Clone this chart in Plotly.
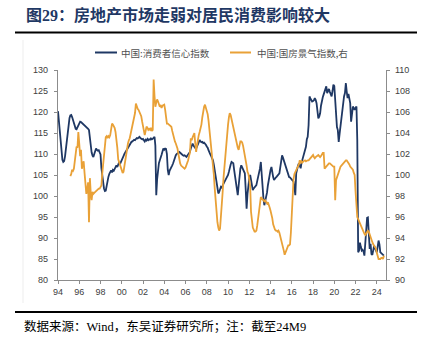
import pandas as pd
import plotly.graph_objects as go

# 中国:消费者信心指数 (monthly, from 1994-01)
cci = [
    120.2, 117.5, 114.5, 111.8, 109.8, 108.6, 108.1, 108.3, 109.5, 111.5, 113.8, 116.0,  # 1994
    117.6, 118.6, 119.2, 119.3, 118.8, 118.0, 117.2, 116.5, 116.0, 115.9, 116.3, 116.9,  # 1995
    117.4, 117.7, 117.6, 117.4, 117.3, 117.2, 117.0, 116.8, 116.5, 116.3, 116.0, 115.7,  # 1996
    113.5, 111.7, 110.4, 109.6, 109.3, 110.0, 110.8, 111.3, 111.0, 110.8, 110.9, 110.3,  # 1997
    109.9, 106.6, 104.5, 103.0, 101.8, 101.2, 101.3, 102.4, 103.8, 104.6, 105.3, 105.8,  # 1998
    106.1, 105.6, 106.2, 106.0, 106.5, 106.9, 107.3, 106.9, 107.4, 108.0, 107.6, 108.2,  # 1999
    108.6, 109.3, 109.5, 110.0, 110.4, 110.7, 110.9, 111.5, 112.0, 112.3, 112.6, 112.9,  # 2000
    113.0, 113.2, 113.4, 113.3, 113.6, 113.8, 113.7, 113.9, 114.1, 113.8, 113.6, 113.5,  # 2001
    113.6, 113.3, 113.0, 113.4, 113.2, 113.6, 113.3, 113.5, 113.4, 113.7, 113.5, 113.6,  # 2002
    113.8, 114.1, 112.0, 100.2, 104.0, 106.9, 107.8, 108.5, 109.0, 109.8, 110.6, 111.3,  # 2003
    111.0, 111.3, 111.2, 110.0, 106.2, 105.0, 106.0, 106.6, 107.0, 107.3, 107.8, 108.6,  # 2004
    109.2, 109.7, 110.0, 110.2, 110.4, 110.5, 110.3, 110.0, 109.9, 109.7, 109.6, 109.7,  # 2005
    109.5, 109.3, 109.6, 110.0, 110.3, 110.5, 111.3, 112.0, 112.5, 112.0, 111.5, 111.4,  # 2006
    111.3, 111.9, 112.5, 113.0, 113.3, 113.0, 112.8, 112.9, 112.6, 112.7, 112.5, 112.2,  # 2007
    111.8, 111.5, 110.9, 110.2, 109.9, 109.5, 109.0, 108.5, 107.4, 106.1, 104.6, 103.0,  # 2008
    101.8, 100.6, 100.9, 101.5, 102.2, 102.0, 102.6, 103.0, 103.4, 103.8, 104.2, 104.6,  # 2009
    105.0, 105.8, 106.9, 107.5, 108.1, 108.0, 107.8, 106.1, 104.5, 103.0, 101.5, 100.2,  # 2010
    102.5, 105.0, 106.5, 107.3, 106.8, 106.0, 105.7, 105.4, 101.5, 97.0, 100.5, 103.0,   # 2011
    104.2, 105.0, 103.5, 102.3, 101.4, 101.8, 102.0, 102.3, 102.6, 103.6, 104.5, 105.4,  # 2012
    106.5, 108.1, 104.5, 101.4, 99.5, 97.8, 98.6, 99.8, 100.8, 102.5, 104.0, 105.5,      # 2013
    106.2, 106.9, 105.5, 104.5, 103.8, 104.2, 104.4, 104.6, 104.9, 105.2, 105.4, 106.8,  # 2014
    108.1, 109.7, 109.2, 108.5, 107.5, 106.8, 106.3, 105.8, 104.6, 104.5, 104.4, 104.2,  # 2015
    104.0, 103.8, 103.4, 102.0, 100.2, 105.4, 106.8, 107.2, 107.8, 107.0, 106.6, 107.9,  # 2016
    108.6, 109.3, 110.2, 111.0, 111.7, 113.5, 114.1, 116.9, 123.7, 123.2, 122.8, 122.5,  # 2017
    122.6, 122.8, 123.3, 122.9, 122.1, 120.5, 118.5, 118.9, 119.7, 121.5, 122.9, 123.5,  # 2018
    124.2, 124.9, 125.5, 126.1, 124.5, 125.0, 125.5, 124.8, 124.2, 123.7, 125.0, 126.5,  # 2019
    126.2, 122.9, 117.7, 116.4, 115.7, 112.9, 114.8, 116.5, 118.5, 120.9, 122.5, 123.7,  # 2020
    124.5, 126.9, 125.0, 123.3, 124.3, 123.5, 122.1, 117.7, 119.5, 121.3, 120.9, 120.5,  # 2021
    121.0, 121.3, 113.2, 86.6, 87.0, 88.9, 87.9, 87.0, 87.2, 86.8, 85.8, 88.3,           # 2022
    91.2, 94.8, 94.9, 89.8, 87.4, 88.6, 86.2, 86.0, 87.2, 88.2, 87.5, 86.8,              # 2023
    86.6, 88.0, 89.4, 88.5, 86.6, 86.4, 86.2, 85.9, 85.8,                                # 2024
]

# 中国:国房景气指数 (monthly, from 1995-03), right axis
housing = [
    99.9, 100.1, 100.5, 100.4, 100.6, 101.4, 102.2, 102.7, 102.6, 104.1,                  # 1995
    103.0, 101.8, 102.4, 100.6, 101.0, 101.3, 100.2, 99.2, 98.2, 98.6, 99.3, 95.5,       # 1996
    99.7, 98.2, 97.6, 98.4, 98.2, 98.3, 98.4, 98.5, 98.6, 98.6, 98.7, 98.7,              # 1997
    98.9, 99.0, 100.1, 101.0, 101.7, 102.8, 103.6, 103.7, 103.5, 103.7, 103.6, 103.8,    # 1998
    104.3, 104.9, 104.8, 104.6, 104.5, 104.1, 103.5, 102.6, 101.5, 101.2, 101.0, 100.8,  # 1999
    100.5, 100.2, 100.3, 100.9, 101.6, 102.2, 102.7, 103.0, 103.3, 103.5, 103.9, 104.3,  # 2000
    104.6, 104.9, 105.2, 105.9, 106.8, 106.5, 106.3, 106.2, 106.0, 105.8, 105.6, 105.1,  # 2001
    104.6, 104.2, 103.8, 104.2, 104.6, 104.5, 104.3, 104.4, 104.3, 104.5, 104.2, 104.3,  # 2002
    109.1, 107.5, 106.5, 106.9, 107.2, 107.0, 106.8, 106.5, 106.6, 106.4, 106.6, 106.7,  # 2003
    106.7, 106.2, 105.6, 104.9, 104.9, 104.8, 104.7, 104.7, 104.6, 104.2, 103.8, 103.5,  # 2004
    103.2, 103.0, 102.8, 102.5, 102.0, 101.4, 101.1, 100.9, 100.8, 100.7, 100.6, 100.6,  # 2005
    100.7, 100.9, 101.1, 101.4, 101.8, 102.1, 103.5, 103.3, 103.6, 103.8, 104.0, 103.0,  # 2006
    102.2, 102.9, 103.5, 103.8, 104.1, 104.4, 104.8, 105.5, 106.2, 106.5, 106.7, 106.4,  # 2007
    106.2, 105.8, 105.2, 104.4, 103.6, 102.8, 102.0, 101.2, 100.0, 98.7, 97.4, 96.3,     # 2008
    95.5, 95.0, 94.7, 94.9, 95.8, 97.0, 98.4, 99.8, 101.0, 102.2, 103.2, 104.0,          # 2009
    104.8, 105.5, 105.9, 105.7, 105.3, 104.8, 104.4, 104.0, 103.6, 103.2, 102.9, 102.6,  # 2010
    102.4, 102.8, 103.2, 103.2, 103.1, 102.8, 102.4, 101.9, 101.4, 100.9, 100.3, 100.1,  # 2011
    99.6, 98.9, 96.5, 95.6, 95.0, 94.8, 94.6, 94.6, 94.7, 95.2, 95.9, 96.6,              # 2012
    97.2, 97.9, 97.8, 97.7, 97.6, 97.5, 97.6, 97.4, 97.3, 97.4, 97.2, 96.9,              # 2013
    96.6, 96.3, 95.9, 95.3, 94.9, 94.8, 94.7, 94.7, 94.6, 94.7, 94.5, 94.2,              # 2014
    93.8, 93.4, 93.1, 92.8, 92.4, 92.6, 92.9, 93.1, 93.3, 93.3, 93.4, 94.5,              # 2015
    96.5, 98.9, 99.6, 100.1, 100.3, 100.5, 100.6, 100.8, 101.0, 101.4, 101.1, 101.3,     # 2016
    101.2, 101.3, 101.4, 101.4, 101.3, 101.4, 101.4, 101.4, 101.5, 101.6, 101.7, 101.7,  # 2017
    101.9, 101.7, 101.6, 101.7, 101.8, 101.9, 101.9, 101.8, 101.7, 101.8, 102.0, 102.1,  # 2018
    102.1, 100.6, 100.7, 100.8, 101.0, 101.1, 101.1, 101.1, 101.0, 101.0, 100.9, 100.8,  # 2019
    100.8, 97.6, 99.5, 99.8, 100.1, 100.4, 100.6, 100.8, 100.9, 101.0, 101.1, 101.3,     # 2020
    101.4, 101.4, 101.4, 101.3, 101.2, 101.0, 100.8, 100.7, 100.6, 100.5, 100.2, 100.0,  # 2021
    98.4, 96.6, 96.0, 95.8, 95.6, 95.4, 95.1, 94.9, 94.7, 94.5, 94.4, 94.3,              # 2022
    94.5, 94.7, 94.7, 94.6, 94.3, 94.0, 93.8, 93.6, 93.4, 93.3, 93.2, 93.0,              # 2023
    92.6, 92.1, 92.0, 92.0, 92.0, 92.1, 92.1, 92.0, 92.3,                                # 2024
]

cci_name = "中国:消费者信心指数"
housing_name = "中国:国房景气指数,右"
tick_years = list(range(1994, 2025, 2))
tick_text = [f"{y % 100:02d}" for y in tick_years]

title_text = "图29：房地产市场走弱对居民消费影响较大"
source_text = "数据来源：Wind，东吴证券研究所；注：截至24M9"

NAVY = "#1F3864"
ORANGE = "#E9A137"
AXIS = "#8C8C8C"
TICKFONT = dict(family="Liberation Sans, Arial, sans-serif", size=9, color="#404040")
CJK = "Liberation Serif, Noto Sans CJK SC, serif"

cci_dates = pd.date_range("1994-01-01", periods=len(cci), freq="MS")
housing_dates = pd.date_range("1995-03-01", periods=len(housing), freq="MS")

fig = go.Figure()
fig.add_trace(go.Scatter(x=cci_dates, y=cci, name=cci_name, mode="lines",
                         line=dict(color=NAVY, width=1.8), yaxis="y"))
fig.add_trace(go.Scatter(x=housing_dates, y=housing, name=housing_name, mode="lines",
                         line=dict(color=ORANGE, width=1.8), yaxis="y2"))

# plot area in pixels: x 58..386, y 70..280
L, R, T, B = 58, 386, 70, 280
def fx(px):
    return (px - L) / (R - L)
def fy(py):
    return (B - py) / (B - T)

axis_common = dict(showline=True, linecolor=AXIS, linewidth=1.2, ticks="outside",
                   ticklen=3, tickcolor=AXIS, tickwidth=1, showgrid=False,
                   zeroline=False, tickfont=TICKFONT)

fig.update_layout(
    width=422, height=344,
    margin=dict(l=L, r=422 - R, t=T, b=344 - B),
    paper_bgcolor="white", plot_bgcolor="white",
    showlegend=False,
    xaxis=dict(type="date", range=["1994-01-01", "2024-11-12"],
               tickvals=[f"{y}-01-01" for y in tick_years], ticktext=tick_text,
               **axis_common),
    yaxis=dict(range=[80, 130], tickvals=list(range(80, 131, 5)),
               ticklabelstandoff=4, **axis_common),
    yaxis2=dict(range=[90, 110], tickvals=list(range(90, 111, 2)),
                overlaying="y", side="right", ticklabelstandoff=3, **axis_common),
)

shapes = [
    # rules above the chart and below the axis
    dict(type="line", xref="paper", yref="paper", x0=fx(15), x1=fx(417),
         y0=fy(32.5), y1=fy(32.5), line=dict(color="black", width=2)),
    dict(type="line", xref="paper", yref="paper", x0=fx(15), x1=fx(417),
         y0=fy(312), y1=fy(312), line=dict(color="black", width=2)),
    # faint frame edge of the chart panel
    dict(type="line", xref="paper", yref="paper", x0=fx(23), x1=fx(23),
         y0=fy(40), y1=fy(303), line=dict(color="#EDEDED", width=1)),
    # legend keys
    dict(type="line", xref="paper", yref="paper", x0=fx(95), x1=fx(117),
         y0=fy(52.5), y1=fy(52.5), line=dict(color=NAVY, width=2)),
    dict(type="line", xref="paper", yref="paper", x0=fx(230), x1=fx(251),
         y0=fy(52.5), y1=fy(52.5), line=dict(color=ORANGE, width=2)),
]

annotations = [
    dict(text=f"<b>{title_text}</b>", xref="paper", yref="paper", x=fx(24), y=fy(15),
         xanchor="left", yanchor="middle", showarrow=False,
         font=dict(family=CJK, size=16, color=NAVY)),
    dict(text=source_text, xref="paper", yref="paper", x=fx(22), y=fy(326),
         xanchor="left", yanchor="middle", showarrow=False,
         font=dict(family=CJK, size=12.5, color="black")),
    dict(text=cci_name, xref="paper", yref="paper", x=fx(119), y=fy(52.5),
         xanchor="left", yanchor="middle", showarrow=False,
         font=dict(family="Noto Sans CJK SC", size=9.5, color="#505050")),
    dict(text=housing_name, xref="paper", yref="paper", x=fx(255), y=fy(52.5),
         xanchor="left", yanchor="middle", showarrow=False,
         font=dict(family="Noto Sans CJK SC", size=9.5, color="#505050")),
]

fig.update_layout(shapes=shapes, annotations=annotations)
fig.write_html("out.html")
